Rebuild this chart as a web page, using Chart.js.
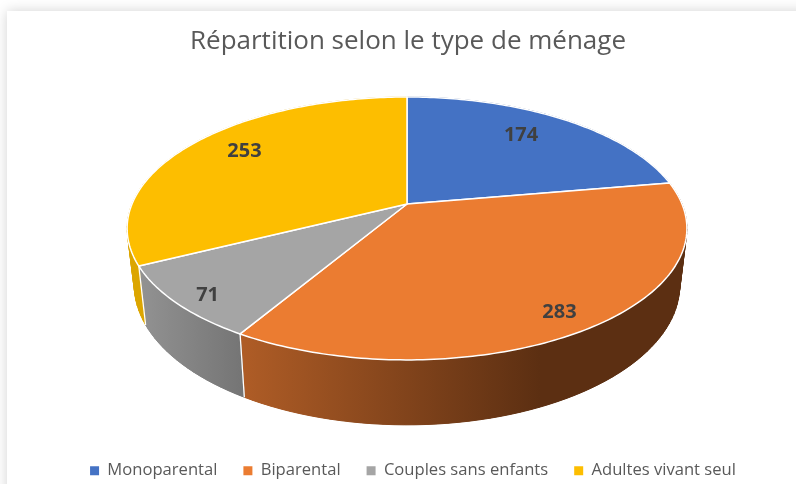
<!DOCTYPE html>
<html lang="fr">
<head>
<meta charset="utf-8">
<title>Répartition selon le type de ménage</title>
<script src="https://cdn.jsdelivr.net/npm/chart.js@4"></script>
<style>
  html, body { margin: 0; height: 100%; overflow: hidden; background: #fff; }
  #card { position: absolute; left: 7px; top: 11px; width: 820px; height: 500px; background: #fff; box-shadow: 0 0 12px rgba(0,0,0,.18); }
  canvas { position: absolute; left: 0; top: 0; }
</style>
</head>
<body>
<div id="card"></div>
<canvas id="myChart" width="796" height="484"></canvas>
<script>
  const categories = ['Monoparental', 'Biparental', 'Couples sans enfants', 'Adultes vivant seul'];
  const values = [174, 283, 71, 253];
  const topColors = ['#4472c4', '#eb7c31', '#a5a5a5', '#fdbe00'];
  const labelRadius = [0.75, 0.85, 0.9, 0.76];
  const labelNudge = [[-6, -3], [0, 6], [5, 3], [3, -6]];

  // disque en perspective : point (X, Y) du cercle unité vers l'écran
  const top3d = { cx: 407, cy: 204, r: 275, s: 126.9, k: -0.186 };
  const bottom3d = { cx: 407, cy: 259, r: 268, s: 135, k: -0.186 };

  function project(disc, theta, rad) {
    const X = Math.sin(theta) * rad;
    const Y = -Math.cos(theta) * rad;
    const w = 1 + disc.k * Y;
    return { x: disc.cx + disc.r * X / w, y: disc.cy + disc.s * Y / w };
  }

  function rim(ctx, disc, from, to) {
    const steps = Math.max(2, Math.ceil(Math.abs(to - from) * 60));
    for (let i = 0; i <= steps; i++) {
      const p = project(disc, from + (to - from) * i / steps, 1);
      ctx.lineTo(p.x, p.y);
    }
  }

  function wallFill(ctx, i) {
    if (i === 1) {
      const g = ctx.createLinearGradient(245, 0, 540, 0);
      g.addColorStop(0, '#ae5c26');
      g.addColorStop(1, '#5c2f12');
      return g;
    }
    if (i === 2) {
      const g = ctx.createLinearGradient(140, 0, 245, 0);
      g.addColorStop(0, '#929292');
      g.addColorStop(1, '#747474');
      return g;
    }
    if (i === 3) return '#dca600';
    return '#2f4f8a';
  }

  // le contour d'abord, puis des bandes pour la silhouette droite du cylindre
  function drawWall(ctx, s, i) {
    const fill = wallFill(ctx, i);
    ctx.fillStyle = fill;
    ctx.strokeStyle = fill;
    ctx.lineWidth = 1;
    ctx.beginPath();
    rim(ctx, top3d, s.from, s.to);
    rim(ctx, bottom3d, s.to, s.from);
    ctx.closePath();
    ctx.fill();
    const steps = Math.ceil((s.to - s.from) * 30);
    for (let n = 0; n < steps; n++) {
      const t0 = s.from + (s.to - s.from) * n / steps;
      const t1 = s.from + (s.to - s.from) * (n + 1) / steps;
      const a = project(top3d, t0, 1), b = project(top3d, t1, 1);
      const c = project(bottom3d, t1, 1), d = project(bottom3d, t0, 1);
      ctx.beginPath();
      ctx.moveTo(a.x, a.y);
      ctx.lineTo(b.x, b.y);
      ctx.lineTo(c.x, c.y);
      ctx.lineTo(d.x, d.y);
      ctx.closePath();
      ctx.fill();
      ctx.stroke();
    }
  }

  const pie3d = {
    id: 'pie3d',
    afterLayout(chart) {
      // la légende du modèle n'est pas centrée comme le titre
      chart.legend.left += 5;
      chart.legend.right += 5;
      chart.legend.top += 5;
      chart.legend.bottom += 5;
    },
    beforeDatasetDraw(chart, args) {
      const ctx = chart.ctx;
      const a = args.meta.data.map(el => ({ from: el.startAngle + Math.PI / 2, to: el.endAngle + Math.PI / 2 }));
      ctx.save();
      ctx.lineJoin = 'round';
      // parois d'abord, le dessus les recouvre
      a.forEach((s, i) => drawWall(ctx, s, i));
      ctx.strokeStyle = '#fff';
      ctx.lineWidth = 1.3;
      a.forEach(s => {
        const p = project(top3d, s.from, 1), q = project(bottom3d, s.from, 1);
        ctx.beginPath();
        ctx.moveTo(p.x, p.y);
        ctx.lineTo(q.x, q.y);
        ctx.stroke();
      });
      a.forEach((s, i) => {
        ctx.beginPath();
        ctx.moveTo(top3d.cx, top3d.cy);
        rim(ctx, top3d, s.from, s.to);
        ctx.closePath();
        ctx.fillStyle = topColors[i];
        ctx.fill();
        ctx.lineWidth = 1.5;
        ctx.stroke();
      });
      ctx.restore();
      return false;
    },
    afterDatasetsDraw(chart) {
      const ctx = chart.ctx;
      const arcs = chart.getDatasetMeta(0).data;
      ctx.save();
      ctx.font = 'bold 20px "Open Sans"';
      ctx.fillStyle = '#404040';
      ctx.textAlign = 'center';
      ctx.textBaseline = 'middle';
      arcs.forEach((el, i) => {
        const mid = (el.startAngle + el.endAngle) / 2 + Math.PI / 2;
        const p = project(top3d, mid, labelRadius[i]);
        ctx.fillText(values[i], p.x + labelNudge[i][0], p.y + labelNudge[i][1]);
      });
      ctx.restore();
    }
  };

  new Chart(document.getElementById('myChart'), {
    type: 'pie',
    data: {
      labels: categories,
      datasets: [{
        data: values,
        backgroundColor: topColors,
        borderWidth: 0
      }]
    },
    options: {
      responsive: false,
      animation: false,
      layout: { padding: { left: 20 } },
      plugins: {
        title: {
          display: true,
          text: 'Répartition selon le type de ménage',
          color: '#595959',
          font: { size: 26, family: 'Open Sans', weight: 'normal' },
          padding: { top: 26, bottom: 8 }
        },
        legend: {
          position: 'bottom',
          labels: {
            boxWidth: 9,
            boxHeight: 9,
            padding: 26,
            color: '#595959',
            font: { size: 16.6, family: 'Open Sans' }
          }
        },
        tooltip: { enabled: false }
      }
    },
    plugins: [pie3d]
  });
</script>
</body>
</html>
